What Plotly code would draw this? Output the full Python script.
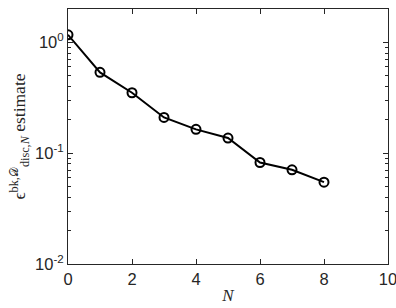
import plotly.graph_objects as go

N = [0, 1, 2, 3, 4, 5, 6, 7, 8]
estimate = [1.17, 0.536, 0.351, 0.210, 0.164, 0.137, 0.0824, 0.0708, 0.0548]
x_ticks = [0, 2, 4, 6, 8, 10]
y_ticks = [0.01, 0.1, 1]
y_ticktext = ["10<sup>-2</sup>", "10<sup>-1</sup>", "10<sup>0</sup>"]
y_minor = [m * d for d in (0.01, 0.1, 1) for m in range(2, 10)]

axcol = "#262626"
fig = go.Figure()
fig.add_trace(go.Scatter(
    x=N, y=estimate, mode="lines+markers",
    line=dict(color="black", width=2),
    marker=dict(symbol="circle-open", size=9, color="black", line=dict(width=2)),
    showlegend=False,
))
fig.update_layout(
    width=396, height=308,
    margin=dict(l=68, r=8, t=9, b=44, autoexpand=False),
    plot_bgcolor="white", paper_bgcolor="white",
    font=dict(family="Liberation Sans, Arial, sans-serif", size=16.5, color=axcol),
)
fig.update_xaxes(
    range=[0, 10], tickvals=x_ticks, ticks="inside", ticklen=5,
    ticklabeloverflow="allow", automargin=False,
    showline=True, linecolor=axcol, linewidth=1, mirror="ticks",
    showgrid=False, zeroline=False, tickcolor=axcol,
    title=dict(text="<i>N</i>", font=dict(family="Liberation Serif, serif", size=17), standoff=2),
)
fig.update_yaxes(
    type="log", range=[-2, 0.301], tickvals=y_ticks, ticktext=y_ticktext,
    ticks="inside", ticklen=5, tickcolor=axcol, automargin=False,
    minor=dict(tickvals=y_minor, ticks="inside", ticklen=3, tickcolor=axcol, showgrid=False),
    showline=True, linecolor=axcol, linewidth=1, mirror="ticks",
    showgrid=False, zeroline=False,
    title=dict(text="ϵ<sup>bk,𝒟</sup><sub>disc,<i>N</i></sub> estimate",
               font=dict(family="Liberation Serif, DejaVu Serif, serif", size=17.5), standoff=4),
)
fig.write_html("out.html")
